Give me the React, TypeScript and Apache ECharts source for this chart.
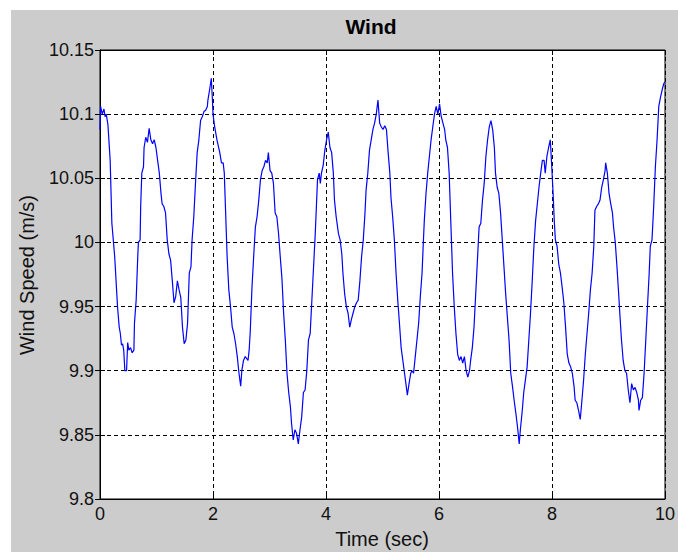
import React, { useEffect, useRef } from "react";
import * as echarts from "echarts";

const titleText = "Wind";
const xAxisTitle = "Time (sec)";
const yAxisTitle = "Wind Speed (m/s)";

const xMin = 0;
const xMax = 10;
const xInterval = 2;
const yMin = 9.8;
const yMax = 10.15;
const yInterval = 0.05;

const timeSec = [
  0.00, 0.01, 0.04, 0.07, 0.09, 0.11, 0.14, 0.18, 0.21, 0.26, 0.31, 0.34, 0.36, 0.38, 0.40, 0.42, 0.44, 0.47, 0.49, 0.51,
  0.54, 0.57, 0.60, 0.61, 0.64, 0.67, 0.68, 0.71, 0.72, 0.74, 0.77, 0.78, 0.81, 0.84, 0.87, 0.90, 0.93, 0.96, 0.99, 1.02,
  1.05, 1.08, 1.10, 1.13, 1.16, 1.19, 1.22, 1.25, 1.28, 1.31, 1.34, 1.37, 1.40, 1.43, 1.46, 1.49, 1.52, 1.55, 1.58, 1.61,
  1.63, 1.66, 1.69, 1.72, 1.75, 1.78, 1.81, 1.84, 1.87, 1.90, 1.91, 1.94, 1.97, 1.99, 2.00, 2.03, 2.07, 2.12, 2.15, 2.18,
  2.20, 2.22, 2.25, 2.28, 2.31, 2.34, 2.37, 2.40, 2.43, 2.46, 2.49, 2.51, 2.54, 2.57, 2.62, 2.64, 2.66, 2.69, 2.72, 2.75,
  2.78, 2.81, 2.84, 2.87, 2.90, 2.93, 2.96, 2.98, 3.01, 3.04, 3.07, 3.10, 3.13, 3.16, 3.19, 3.22, 3.25, 3.28, 3.31, 3.34,
  3.37, 3.39, 3.42, 3.45, 3.48, 3.51, 3.54, 3.57, 3.60, 3.63, 3.66, 3.69, 3.72, 3.75, 3.78, 3.81, 3.83, 3.85, 3.88, 3.90,
  3.92, 3.95, 3.98, 4.01, 4.04, 4.07, 4.10, 4.13, 4.15, 4.18, 4.22, 4.25, 4.28, 4.30, 4.33, 4.36, 4.39, 4.42, 4.45, 4.48,
  4.51, 4.54, 4.57, 4.60, 4.63, 4.66, 4.69, 4.71, 4.74, 4.77, 4.80, 4.83, 4.86, 4.89, 4.92, 4.95, 4.98, 5.01, 5.04, 5.07,
  5.10, 5.13, 5.15, 5.18, 5.21, 5.24, 5.27, 5.30, 5.33, 5.36, 5.39, 5.42, 5.44, 5.47, 5.50, 5.52, 5.55, 5.58, 5.61, 5.64,
  5.67, 5.70, 5.72, 5.74, 5.77, 5.80, 5.83, 5.86, 5.89, 5.92, 5.95, 5.98, 6.01, 6.04, 6.07, 6.10, 6.12, 6.15, 6.18, 6.21,
  6.24, 6.27, 6.30, 6.33, 6.36, 6.39, 6.42, 6.45, 6.48, 6.51, 6.54, 6.56, 6.59, 6.62, 6.65, 6.68, 6.71, 6.74, 6.77, 6.80,
  6.83, 6.86, 6.89, 6.92, 6.95, 6.98, 7.00, 7.03, 7.06, 7.09, 7.12, 7.15, 7.18, 7.21, 7.24, 7.27, 7.30, 7.33, 7.36, 7.39,
  7.42, 7.44, 7.47, 7.50, 7.53, 7.56, 7.59, 7.62, 7.65, 7.68, 7.71, 7.74, 7.77, 7.80, 7.83, 7.86, 7.88, 7.91, 7.94, 7.97,
  7.99, 8.02, 8.04, 8.06, 8.09, 8.12, 8.15, 8.18, 8.21, 8.24, 8.27, 8.30, 8.33, 8.36, 8.39, 8.41, 8.44, 8.47, 8.50, 8.53,
  8.56, 8.59, 8.62, 8.65, 8.68, 8.71, 8.74, 8.76, 8.79, 8.82, 8.85, 8.88, 8.91, 8.94, 8.95, 8.98, 9.01, 9.04, 9.07, 9.09,
  9.12, 9.15, 9.18, 9.20, 9.23, 9.26, 9.29, 9.32, 9.35, 9.38, 9.41, 9.44, 9.47, 9.50, 9.53, 9.54, 9.57, 9.60, 9.63, 9.66,
  9.69, 9.72, 9.74, 9.77, 9.80, 9.83, 9.86, 9.89, 9.92, 9.95, 9.98, 10.00,
];

const windSpeed = [
  10.088, 10.106, 10.1, 10.104, 10.098, 10.1, 10.092, 10.064, 10.015, 9.989, 9.95, 9.934, 9.929, 9.92, 9.921, 9.916, 9.9, 9.9, 9.922, 9.916,
  9.918, 9.914, 9.916, 9.937, 9.955, 9.991, 10.0, 10.002, 10.028, 10.054, 10.059, 10.074, 10.082, 10.078, 10.089, 10.08, 10.077, 10.08, 10.074, 10.064,
  10.054, 10.038, 10.03, 10.028, 10.023, 10.002, 9.991, 9.986, 9.97, 9.953, 9.958, 9.97, 9.963, 9.957, 9.934, 9.921, 9.924, 9.937, 9.976, 9.981,
  10.002, 10.02, 10.046, 10.07, 10.08, 10.095, 10.098, 10.102, 10.103, 10.106, 10.111, 10.119, 10.128, 10.111, 10.1, 10.09, 10.08, 10.07, 10.062, 10.062,
  10.054, 10.028, 9.989, 9.963, 9.95, 9.934, 9.929, 9.921, 9.911, 9.898, 9.888, 9.9, 9.908, 9.911, 9.908, 9.916, 9.931, 9.965, 9.989, 10.012,
  10.02, 10.033, 10.049, 10.056, 10.059, 10.064, 10.062, 10.07, 10.056, 10.054, 10.046, 10.023, 10.02, 10.007, 9.989, 9.972, 9.945, 9.924, 9.898, 9.883,
  9.872, 9.859, 9.846, 9.854, 9.851, 9.843, 9.854, 9.864, 9.883, 9.885, 9.9, 9.924, 9.929, 9.955, 9.981, 10.007, 10.028, 10.049, 10.054, 10.046,
  10.054, 10.06, 10.072, 10.08, 10.086, 10.074, 10.07, 10.054, 10.033, 10.02, 10.007, 10.002, 9.991, 9.976, 9.96, 9.95, 9.945, 9.934, 9.94, 9.945,
  9.95, 9.953, 9.955, 9.97, 9.989, 10.002, 10.023, 10.041, 10.054, 10.072, 10.08, 10.088, 10.093, 10.1, 10.111, 10.093, 10.09, 10.088, 10.091, 10.088,
  10.07, 10.054, 10.035, 10.02, 10.002, 9.976, 9.955, 9.937, 9.918, 9.908, 9.898, 9.888, 9.881, 9.89, 9.898, 9.9, 9.898, 9.911, 9.924, 9.937,
  9.958, 9.976, 9.997, 10.017, 10.038, 10.054, 10.067, 10.08, 10.09, 10.1, 10.106, 10.1, 10.108, 10.098, 10.093, 10.088, 10.08, 10.074, 10.054, 10.015,
  9.976, 9.95, 9.929, 9.913, 9.908, 9.911, 9.906, 9.911, 9.9, 9.895, 9.9, 9.908, 9.918, 9.934, 9.96, 9.986, 10.012, 10.015, 10.033, 10.046,
  10.067, 10.08, 10.09, 10.095, 10.088, 10.074, 10.054, 10.043, 10.038, 10.023, 10.002, 9.981, 9.96, 9.942, 9.924, 9.898, 9.888, 9.877, 9.867, 9.856,
  9.843, 9.854, 9.867, 9.883, 9.893, 9.903, 9.924, 9.945, 9.97, 9.997, 10.017, 10.03, 10.043, 10.054, 10.064, 10.064, 10.054, 10.067, 10.074, 10.08,
  10.064, 10.038, 10.017, 10.002, 9.997, 9.983, 9.976, 9.965, 9.953, 9.934, 9.913, 9.906, 9.903, 9.898, 9.888, 9.877, 9.875, 9.869, 9.862, 9.877,
  9.893, 9.913, 9.929, 9.945, 9.963, 9.976, 9.997, 10.025, 10.028, 10.03, 10.033, 10.043, 10.049, 10.056, 10.062, 10.054, 10.038, 10.03, 10.023, 10.012,
  10.0, 9.981, 9.96, 9.945, 9.924, 9.908, 9.9, 9.898, 9.885, 9.875, 9.89, 9.885, 9.887, 9.883, 9.877, 9.869, 9.877, 9.879, 9.898, 9.924,
  9.95, 9.976, 9.997, 10.002, 10.028, 10.059, 10.08, 10.106, 10.113, 10.119, 10.124, 10.125,
];

const FONT = "'Liberation Sans', Arial, Helvetica, sans-serif";

export default function App() {
  const ref = useRef<HTMLDivElement>(null);

  useEffect(() => {
    if (!ref.current) return;
    const chart = echarts.init(ref.current, undefined, { renderer: "svg" });
    const data = timeSec.map((t, i) => [t, windSpeed[i]]);

    const gridLine = { show: true, lineStyle: { color: "#000", type: [4, 3] as any, width: 1 } };
    const tick = { show: true, inside: true, length: 5, lineStyle: { color: "#000", width: 1 } };
    const axisLine = { show: true, lineStyle: { color: "#000", width: 1 } };
    const label = { color: "#111", fontSize: 18, fontFamily: FONT };

    chart.setOption({
      animation: false,
      backgroundColor: "#cccccc",
      grid: {
        left: 89,
        top: 40,
        width: 568,
        height: 449,
        show: true,
        backgroundColor: "#ffffff",
        borderColor: "#000",
        borderWidth: 1,
      },
      xAxis: [
        {
          type: "value",
          min: xMin,
          max: xMax,
          interval: xInterval,
          position: "bottom",
          axisLine,
          axisTick: tick,
          splitLine: gridLine,
          axisLabel: { ...label, margin: 6 },
        },
        {
          type: "value",
          min: xMin,
          max: xMax,
          interval: xInterval,
          position: "top",
          axisLine,
          axisTick: tick,
          splitLine: { show: false },
          axisLabel: { show: false },
        },
      ],
      yAxis: [
        {
          type: "value",
          min: yMin,
          max: yMax,
          interval: yInterval,
          position: "left",
          axisLine,
          axisTick: tick,
          splitLine: gridLine,
          axisLabel: {
            ...label,
            margin: 6,
            formatter: (v: number) => String(parseFloat(v.toFixed(2))),
          },
        },
        {
          type: "value",
          min: yMin,
          max: yMax,
          interval: yInterval,
          position: "right",
          axisLine,
          axisTick: tick,
          splitLine: { show: false },
          axisLabel: { show: false },
        },
      ],
      series: [
        {
          type: "line",
          data,
          showSymbol: false,
          symbol: "none",
          xAxisIndex: 0,
          yAxisIndex: 0,
          lineStyle: { color: "#0000ff", width: 1.2 },
          clip: true,
          z: 3,
        },
      ],
      graphic: [
        {
          type: "text",
          x: 360,
          y: 16,
          style: {
            text: titleText,
            font: `bold 21px ${FONT}`,
            fill: "#000",
            textAlign: "center",
            textVerticalAlign: "middle",
          },
        },
        {
          type: "text",
          x: 371,
          y: 529,
          style: {
            text: xAxisTitle,
            font: `20px ${FONT}`,
            fill: "#111",
            textAlign: "center",
            textVerticalAlign: "middle",
          },
        },
        {
          type: "text",
          x: 16,
          y: 265,
          rotation: Math.PI / 2,
          style: {
            text: yAxisTitle,
            font: `20px ${FONT}`,
            fill: "#111",
            textAlign: "center",
            textVerticalAlign: "middle",
          },
        },
      ],
    });

    return () => chart.dispose();
  }, []);

  return (
    <div style={{ position: "fixed", left: 0, top: 0, width: 678, height: 552, background: "#fff" }}>
      <div
        ref={ref}
        style={{ position: "absolute", left: 11, top: 10, width: 667, height: 542 }}
      />
    </div>
  );
}
